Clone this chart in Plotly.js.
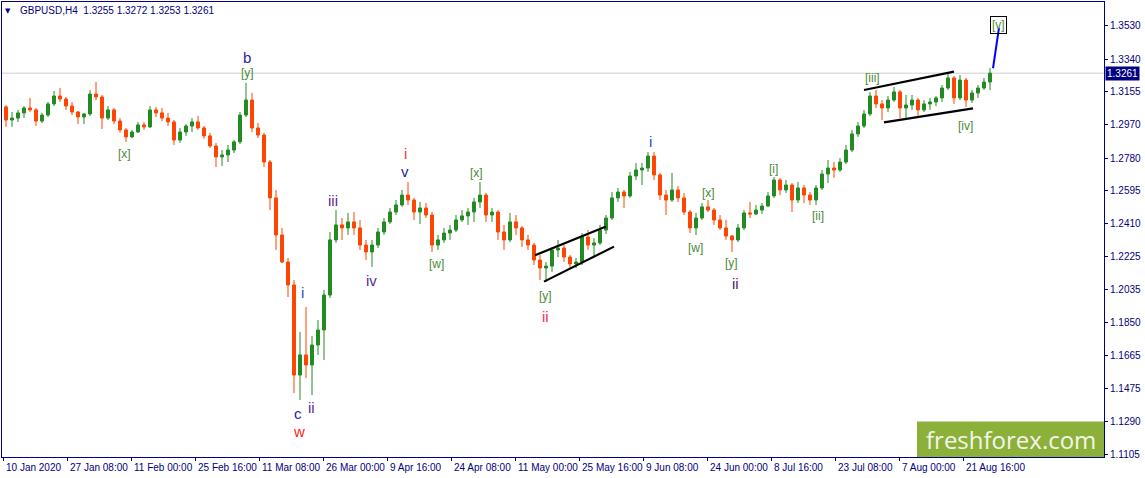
<!DOCTYPE html>
<html>
<head>
<meta charset="utf-8">
<script src="https://cdn.plot.ly/plotly-3.0.1.min.js"></script>
<style>html,body{margin:0;padding:0;background:#fff;}#chart{width:1145px;height:478px;}</style>
</head>
<body>
<div id="chart"></div>
<script>
// ---- data (daily aggregation of the H4 GBPUSD chart) ----
const opens = [1.3070,1.2996,1.3007,1.3036,1.3064,1.3053,1.2990,1.3024,1.3087,1.3132,
1.3115,1.3075,1.3041,1.3013,1.3030,1.3143,1.3126,1.3007,1.3053,1.2990,
1.2940,1.2900,1.2928,1.2968,1.2957,1.3053,1.3036,1.3007,1.2985,1.2883,
1.2928,1.2962,1.2985,1.2951,1.2906,1.2849,1.2787,1.2798,1.2826,1.2872,
1.3024,1.3109,1.2951,1.2911,1.2758,1.2555,1.2345,1.2192,1.2062,1.1552,
1.1666,1.1609,1.1722,1.1807,1.2005,1.2317,1.2402,1.2385,1.2419,1.2385,
1.2288,1.2249,1.2288,1.2362,1.2419,1.2475,1.2515,1.2571,1.2543,1.2475,
1.2498,1.2458,1.2288,1.2317,1.2356,1.2373,1.2430,1.2453,1.2475,1.2532,
1.2571,1.2458,1.2475,1.2362,1.2317,1.2419,1.2385,1.2317,1.2288,1.2203,
1.2158,1.2169,1.2260,1.2271,1.2220,1.2181,1.2192,1.2334,1.2288,1.2300,
1.2373,1.2441,1.2555,1.2588,1.2566,1.2679,1.2713,1.2724,1.2792,1.2685,
1.2571,1.2543,1.2600,1.2555,1.2475,1.2385,1.2441,1.2504,1.2486,1.2430,
1.2385,1.2339,1.2317,1.2385,1.2470,1.2464,1.2486,1.2509,1.2566,1.2656,
1.2600,1.2628,1.2543,1.2611,1.2571,1.2543,1.2611,1.2690,1.2724,1.2713,
1.2758,1.2826,1.2917,1.2962,1.3030,1.3132,1.3087,1.3064,1.3109,1.3155,
1.3064,1.3081,1.3109,1.3053,1.3087,1.3098,1.3121,1.3177,1.3234,1.3121,
1.3222,1.3109,1.3149,1.3177,1.3211];
const highs = [1.3081,1.3041,1.3053,1.3075,1.3121,1.3064,1.3036,1.3098,1.3160,1.3177,
1.3126,1.3098,1.3047,1.3036,1.3166,1.3211,1.3138,1.3075,1.3064,1.3007,
1.2951,1.2940,1.2985,1.2985,1.3075,1.3070,1.3064,1.3036,1.2996,1.2951,
1.2973,1.3007,1.3019,1.2962,1.2923,1.2866,1.2826,1.2855,1.2883,1.3041,
1.3206,1.3149,1.2979,1.2923,1.2770,1.2600,1.2385,1.2215,1.2090,1.1796,
1.1937,1.1773,1.1864,1.2034,1.2362,1.2486,1.2441,1.2470,1.2475,1.2430,
1.2317,1.2317,1.2385,1.2441,1.2498,1.2543,1.2600,1.2645,1.2555,1.2532,
1.2526,1.2475,1.2345,1.2385,1.2402,1.2458,1.2486,1.2498,1.2555,1.2645,
1.2583,1.2498,1.2486,1.2402,1.2470,1.2458,1.2396,1.2345,1.2300,1.2232,
1.2192,1.2277,1.2317,1.2288,1.2232,1.2215,1.2356,1.2373,1.2328,1.2402,
1.2458,1.2588,1.2611,1.2600,1.2702,1.2753,1.2753,1.2815,1.2815,1.2696,
1.2600,1.2696,1.2622,1.2583,1.2486,1.2470,1.2526,1.2543,1.2498,1.2458,
1.2430,1.2345,1.2407,1.2486,1.2532,1.2515,1.2526,1.2588,1.2673,1.2668,
1.2656,1.2639,1.2645,1.2628,1.2588,1.2628,1.2713,1.2770,1.2758,1.2781,
1.2855,1.2940,1.2985,1.3053,1.3155,1.3166,1.3109,1.3132,1.3183,1.3166,
1.3138,1.3138,1.3121,1.3109,1.3121,1.3132,1.3194,1.3268,1.3245,1.3251,
1.3234,1.3166,1.3194,1.3234,1.3290];
const lows = [1.2957,1.2957,1.2985,1.3007,1.3041,1.2962,1.2979,1.3013,1.3075,1.3098,
1.3053,1.3024,1.2973,1.2973,1.3019,1.3109,1.2945,1.2996,1.2973,1.2923,
1.2872,1.2894,1.2923,1.2940,1.2951,1.3013,1.2990,1.2962,1.2855,1.2866,
1.2906,1.2928,1.2940,1.2889,1.2838,1.2730,1.2736,1.2758,1.2809,1.2860,
1.3013,1.2928,1.2894,1.2730,1.2486,1.2260,1.2186,1.1994,1.1450,1.1411,
1.1535,1.1439,1.1666,1.1637,1.1988,1.2300,1.2317,1.2345,1.2345,1.2260,
1.2203,1.2164,1.2271,1.2345,1.2407,1.2458,1.2504,1.2515,1.2430,1.2407,
1.2441,1.2249,1.2260,1.2300,1.2317,1.2362,1.2419,1.2402,1.2419,1.2498,
1.2419,1.2419,1.2317,1.2260,1.2305,1.2345,1.2277,1.2260,1.2175,1.2090,
1.2079,1.2136,1.2220,1.2192,1.2158,1.2158,1.2175,1.2260,1.2215,1.2288,
1.2351,1.2430,1.2532,1.2498,1.2555,1.2656,1.2628,1.2702,1.2656,1.2543,
1.2458,1.2532,1.2532,1.2458,1.2356,1.2345,1.2430,1.2475,1.2402,1.2373,
1.2317,1.2249,1.2305,1.2373,1.2441,1.2458,1.2464,1.2504,1.2555,1.2571,
1.2583,1.2475,1.2526,1.2526,1.2515,1.2515,1.2600,1.2639,1.2668,1.2702,
1.2747,1.2815,1.2900,1.2951,1.3019,1.3064,1.2996,1.3041,1.3098,1.3007,
1.3007,1.3053,1.3007,1.3041,1.3053,1.3075,1.3098,1.3166,1.3087,1.3109,
1.3070,1.3092,1.3121,1.3166,1.3166];
const closes = [1.2996,1.3007,1.3036,1.3064,1.3053,1.2990,1.3024,1.3087,1.3132,1.3115,
1.3075,1.3041,1.3013,1.3030,1.3143,1.3126,1.3007,1.3053,1.2990,1.2940,
1.2900,1.2928,1.2968,1.2957,1.3053,1.3036,1.3007,1.2985,1.2883,1.2928,
1.2962,1.2985,1.2951,1.2906,1.2849,1.2787,1.2798,1.2826,1.2872,1.3024,
1.3109,1.2951,1.2911,1.2758,1.2555,1.2345,1.2192,1.2062,1.1552,1.1666,
1.1609,1.1722,1.1807,1.2005,1.2317,1.2402,1.2385,1.2419,1.2385,1.2288,
1.2249,1.2288,1.2362,1.2419,1.2475,1.2515,1.2571,1.2543,1.2475,1.2498,
1.2458,1.2288,1.2317,1.2356,1.2373,1.2430,1.2453,1.2475,1.2532,1.2571,
1.2458,1.2475,1.2362,1.2317,1.2419,1.2385,1.2317,1.2288,1.2203,1.2158,
1.2169,1.2260,1.2271,1.2220,1.2181,1.2192,1.2334,1.2288,1.2300,1.2373,
1.2441,1.2555,1.2588,1.2566,1.2679,1.2713,1.2724,1.2792,1.2685,1.2571,
1.2543,1.2600,1.2555,1.2475,1.2385,1.2441,1.2504,1.2486,1.2430,1.2385,
1.2339,1.2317,1.2385,1.2470,1.2464,1.2486,1.2509,1.2566,1.2656,1.2600,
1.2628,1.2543,1.2611,1.2571,1.2543,1.2611,1.2690,1.2724,1.2713,1.2758,
1.2826,1.2917,1.2962,1.3030,1.3132,1.3087,1.3064,1.3109,1.3155,1.3064,
1.3081,1.3109,1.3053,1.3087,1.3098,1.3121,1.3177,1.3234,1.3121,1.3222,
1.3109,1.3149,1.3177,1.3211,1.3261];

const timeLabels = ['10 Jan 2020','27 Jan 08:00','11 Feb 00:00','25 Feb 16:00','11 Mar 08:00','26 Mar 00:00',
  '9 Apr 16:00','24 Apr 08:00','11 May 00:00','25 May 16:00','9 Jun 08:00','24 Jun 00:00',
  '8 Jul 16:00','23 Jul 08:00','7 Aug 00:00','21 Aug 16:00'];
const priceTicks = [1.3530,1.3340,1.3155,1.2970,1.2780,1.2595,1.2410,1.2225,1.2035,1.1850,1.1665,1.1475,1.1290,1.1105];
const lastBar = {symbol:'GBPUSD,H4', open:1.3255, high:1.3272, low:1.3253, close:1.3261};

// wave labels (bar index, price)
const waveText  = ['b','[y]','[x]','i','c','ii','w','iii','iv','i','v','[w]','[x]','[y]','ii','i','[x]','[w]','[y]','ii','[i]','[ii]','[iii]','[iv]','[v]'];
const waveBar   = [244,244,121,299,295,308,296,330,368,402,402,433,473,542,542,647,705,692,728,732,770,815,869,962,995];
const wavePrice = [1.3347,1.3262,1.2804,1.2017,1.1337,1.1371,1.1230,1.2543,1.2090,1.2809,1.2702,1.2181,1.2696,1.2000,1.1886,1.2872,1.2583,1.2271,1.2186,1.2068,1.2719,1.2453,1.3234,1.2962,1.3534];
// channel lines (bar, price)
const chanX0 = [532,541,861,881], chanP0 = [1.2230,1.2081,1.3166,1.2983];
const chanX1 = [603,611,951,970], chanP1 = [1.2393,1.2279,1.3270,1.3062];
const projX = [990,996], projP = [1.3289,1.3517];

// ---- styles ----
const NAVY = '#000080';
const FONT = 'Liberation Sans, Arial, sans-serif';
const waveColor = {'b':'#1f1fa0','c':'#1f1fa0','v':'#1f1fa0','w':'#ff2020'};
const waveColorsByIndex = ['#1f1fa0',null,null,'#2050d0','#1f1fa0','#5b1f9e','#ff2020','#5b1f9e','#5b1f9e','#ff3030','#1f1fa0',null,null,null,'#ee2a5a','#2050d0',null,null,null,'#4b1a6e',null,null,null,null,null];
const BRACKET = '#4a8a3a';

const BARS_PER_CANDLE = 6;
const xs = opens.map((_, i) => i * BARS_PER_CANDLE + BARS_PER_CANDLE / 2);

const trace = {
  type: 'candlestick', x: xs, open: opens, high: highs, low: lows, close: closes,
  increasing: {line: {color: '#228b22', width: 1}, fillcolor: '#228b22'},
  decreasing: {line: {color: '#ff4500', width: 1}, fillcolor: '#ff4500'},
  whiskerwidth: 0, hoverinfo: 'skip', showlegend: false
};

const annotations = [];
timeLabels.forEach((t, k) => annotations.push({
  x: k * 64, xref: 'x', y: 0, yref: 'paper', text: t, showarrow: false,
  xanchor: 'left', yanchor: 'middle', xshift: 1, yshift: -10.5,
  font: {family: FONT, size: 10, color: NAVY}
}));
annotations.push({x: 0, xref: 'paper', y: 1, yref: 'paper', text: '\u25BC', showarrow: false,
  xanchor: 'center', yanchor: 'middle', xshift: 6, yshift: -8.5, font: {family: 'DejaVu Sans', size: 7, color: NAVY}});
annotations.push({x: 0, xref: 'paper', y: 1, yref: 'paper',
  text: lastBar.symbol + '\u00a0\u00a0' + [lastBar.open, lastBar.high, lastBar.low, lastBar.close].map(v => v.toFixed(4)).join(' '),
  showarrow: false, xanchor: 'left', yanchor: 'middle', xshift: 16, yshift: -8.7,
  font: {family: FONT, size: 10, color: NAVY}});
waveText.forEach((t, i) => {
  const br = t.startsWith('[');
  const a = {x: waveBar[i], y: wavePrice[i], xref: 'x', yref: 'y', text: t, showarrow: false,
    xanchor: 'center', yanchor: 'middle',
    font: {family: FONT, size: br ? 12 : 15, color: br ? BRACKET : waveColorsByIndex[i]}};
  if (t === '[v]') { a.bordercolor = '#000'; a.borderwidth = 1; a.borderpad = 1; }
  annotations.push(a);
});
annotations.push({x: 1, xref: 'paper', y: lastBar.close, yref: 'y', text: lastBar.close.toFixed(4),
  showarrow: false, xanchor: 'left', yanchor: 'middle', xshift: 1, bgcolor: NAVY, borderpad: 1,
  font: {family: FONT, size: 10, color: '#ffffff'}});
annotations.push({x: 0.9156, xref: 'paper', y: 0.0374, yref: 'paper', text: 'freshforex.com',
  showarrow: false, xanchor: 'center', yanchor: 'middle',
  font: {family: 'Open Sans, sans-serif', size: 24, color: '#f2f6ea'}});

const shapes = [];
shapes.push({type: 'line', xref: 'paper', x0: 0, x1: 1, yref: 'y', y0: lastBar.close, y1: lastBar.close,
  line: {color: '#cfcfcf', width: 1}, layer: 'below'});
chanX0.forEach((x0, i) => shapes.push({type: 'line', xref: 'x', yref: 'y', x0: x0, y0: chanP0[i], x1: chanX1[i], y1: chanP1[i],
  line: {color: '#000000', width: 2.2}}));
shapes.push({type: 'line', xref: 'x', yref: 'y', x0: projX[0], y0: projP[0], x1: projX[1], y1: projP[1],
  line: {color: '#0000ff', width: 2}});
shapes.push({type: 'rect', xref: 'paper', yref: 'paper', x0: 0.8303, x1: 1, y0: 0, y1: 0.078,
  fillcolor: '#8db03a', line: {width: 0}, layer: 'above'});

const layout = {
  width: 1145, height: 478,
  margin: {l: 2, r: 41, t: 2, b: 21, pad: 0},
  paper_bgcolor: '#ffffff', plot_bgcolor: '#ffffff', showlegend: false,
  xaxis: {range: [-1, 1101], showgrid: false, zeroline: false, showline: true, linecolor: NAVY, linewidth: 1,
    mirror: true, ticks: 'outside', ticklen: 3, tickcolor: NAVY, tickvals: timeLabels.map((_, k) => k * 64),
    showticklabels: false, rangeslider: {visible: false}, fixedrange: true},
  yaxis: {range: [1.1088, 1.3664], side: 'right', showgrid: false, zeroline: false, showline: true, linecolor: NAVY,
    linewidth: 1, mirror: true, ticks: 'outside', ticklen: 3, tickcolor: NAVY, tickvals: priceTicks,
    ticktext: priceTicks.map(v => v.toFixed(4)), tickfont: {family: FONT, size: 10, color: NAVY}, fixedrange: true},
  annotations: annotations, shapes: shapes
};

Plotly.newPlot('chart', [trace], layout, {displayModeBar: false, staticPlot: true});
</script>
</body>
</html>
